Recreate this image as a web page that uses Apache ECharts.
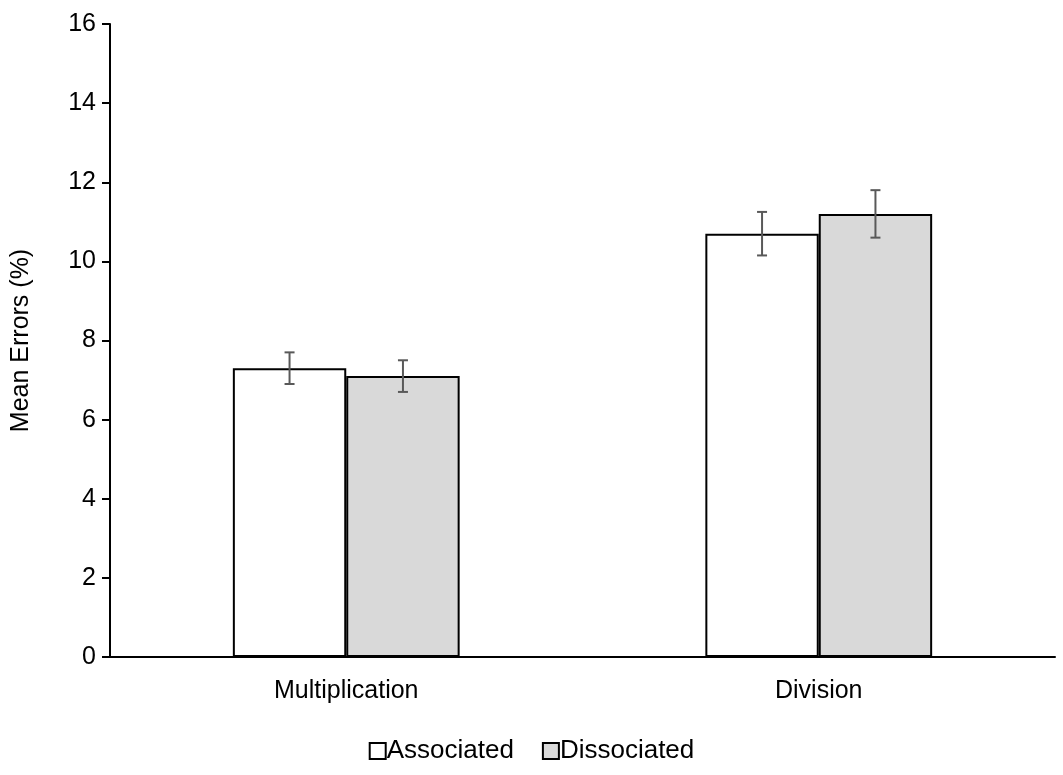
<!DOCTYPE html>
<html>
<head>
<meta charset="utf-8">
<script src="https://cdn.jsdelivr.net/npm/echarts@6/dist/echarts.min.js"></script>
<style>html,body{margin:0;background:#fff}#chart{width:1063px;height:775px}</style>
</head>
<body>
<div id="chart"></div>
<script>
// Data
var categories = ['Multiplication', 'Division'];
var associated = [7.3, 10.7];
var associatedErr = [0.4, 0.55];
var dissociated = [7.1, 11.2];
var dissociatedErr = [0.4, 0.6];

var chart = echarts.init(document.getElementById('chart'));

// error bar renderer; offset shifts to the bar centre within the category
function errorSeries(name, values, errs, offset) {
    return {
        name: name + ' err',
        type: 'custom',
        z: 10,
        data: values.map(function(v, i) { return [i, v - errs[i], v + errs[i]]; }),
        renderItem: function(params, api) {
            var lo = api.coord([api.value(0), api.value(1)]);
            var hi = api.coord([api.value(0), api.value(2)]);
            var bw = api.size([1, 0])[0];
            var x = lo[0] + offset * bw;
            var style = {stroke: '#595959', lineWidth: 2};
            return {
                type: 'group',
                children: [
                    {type: 'line', shape: {x1: x, y1: lo[1], x2: x, y2: hi[1]}, style: style},
                    {type: 'line', shape: {x1: x - 5, y1: lo[1], x2: x + 5, y2: lo[1]}, style: style},
                    {type: 'line', shape: {x1: x - 5, y1: hi[1], x2: x + 5, y2: hi[1]}, style: style}
                ]
            };
        }
    };
}

chart.setOption({
    animation: false,
    textStyle: {fontFamily: 'Liberation Sans, Arial, sans-serif'},
    grid: {left: 110, right: 8, top: 24, bottom: 118},
    legend: {
        bottom: 6,
        left: 'center',
        itemGap: 28,
        itemWidth: 16,
        itemHeight: 16,
        icon: 'rect',
        data: ['Associated', 'Dissociated'],
        textStyle: {fontSize: 26, color: '#000', padding: [0, 0, 0, -4]}
    },
    xAxis: {
        type: 'category',
        data: categories,
        axisLine: {lineStyle: {color: '#000', width: 2}},
        axisTick: {show: false},
        axisLabel: {fontSize: 25, color: '#000', margin: 22}
    },
    yAxis: {
        type: 'value',
        min: 0,
        max: 16,
        interval: 2,
        name: 'Mean Errors (%)',
        nameLocation: 'middle',
        nameGap: 76,
        nameTextStyle: {fontSize: 25, color: '#000'},
        axisLine: {show: true, lineStyle: {color: '#000', width: 2}},
        axisTick: {show: true, length: 8, inside: false, lineStyle: {color: '#000', width: 2}},
        splitLine: {show: false},
        axisLabel: {fontSize: 25, color: '#000', margin: 14}
    },
    series: [
        {
            name: 'Associated', type: 'bar', data: associated,
            barGap: '0%', barCategoryGap: '52%',
            itemStyle: {color: '#ffffff', borderColor: '#000', borderWidth: 2}
        },
        {
            name: 'Dissociated', type: 'bar', data: dissociated,
            itemStyle: {color: '#d9d9d9', borderColor: '#000', borderWidth: 2}
        },
        errorSeries('Associated', associated, associatedErr, -0.12),
        errorSeries('Dissociated', dissociated, dissociatedErr, 0.12)
    ]
});
</script>
</body>
</html>
